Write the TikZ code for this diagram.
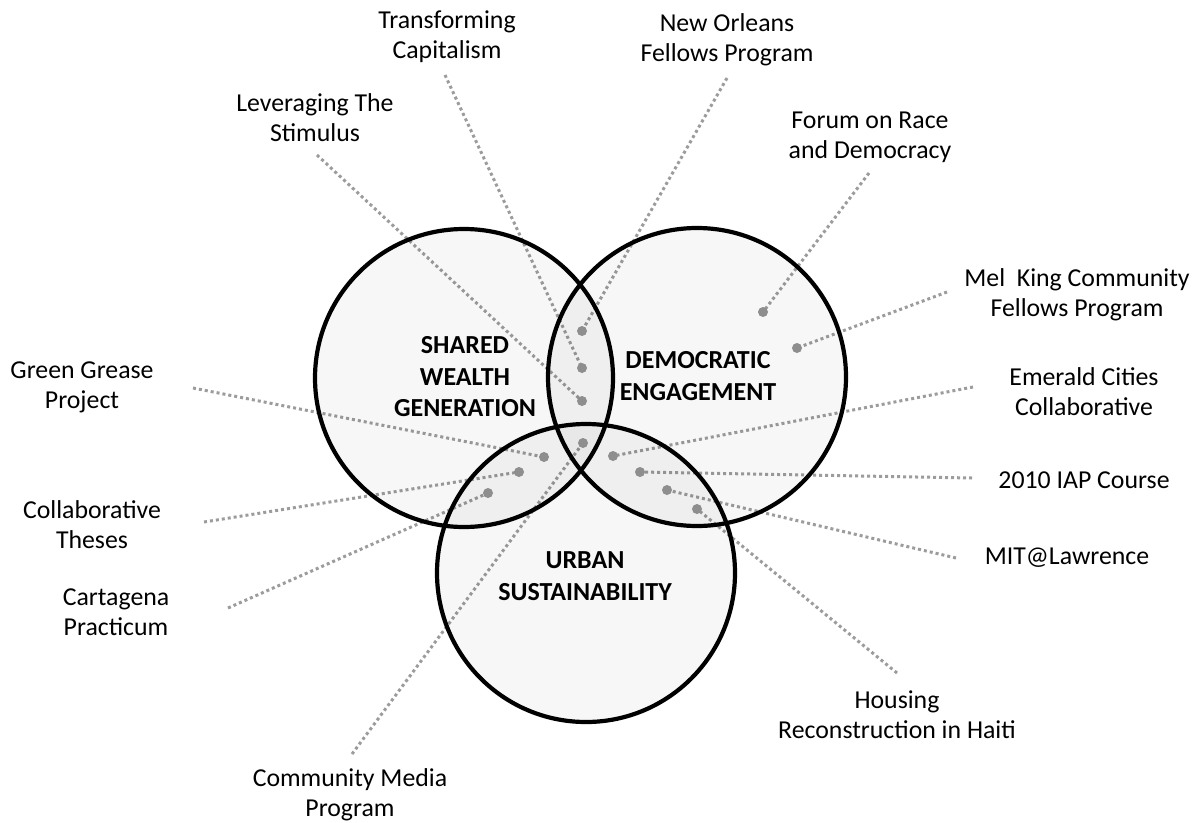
\documentclass[tikz,border=0pt]{standalone}
\usepackage{fontspec}
\setmainfont{Carlito}
\usetikzlibrary{backgrounds}
\definecolor{linegray}{HTML}{9C9C9C}
\definecolor{dotgray}{HTML}{8E8E8E}
\begin{document}
\begin{tikzpicture}[x=1pt,y=-1pt,
  venn/.style={circle, draw=black, line width=4.2pt, minimum size=298pt, inner sep=0pt,
    fill=black, fill opacity=0.032},
  vlabel/.style={align=center, font=\fontsize{26}{31.5}\selectfont\bfseries, inner sep=0pt},
  lbl/.style={align=center, font=\fontsize{25.8}{30}\selectfont, inner sep=0pt},
  pdot/.style={circle, fill=dotgray, minimum size=10pt, inner sep=0pt},
  conn/.style={draw=linegray, line width=3pt, dash pattern=on 3pt off 3pt}]
\useasboundingbox (0,0) rectangle (1202,822);
% circles
\node[venn] (L) at (464,378) {};
\node[venn] (R) at (697,377) {};
\node[venn] (B) at (586,573) {};
\node[vlabel] (Lt) at (465,377) {SHARED\\WEALTH\\GENERATION};
\node[vlabel] (Rt) at (698,376) {DEMOCRATIC\\ENGAGEMENT};
\node[vlabel] (Bt) at (585,576) {URBAN\\SUSTAINABILITY};
% dots
\node[pdot] (d1) at (582,331) {};
\node[pdot] (d2) at (582,368) {};
\node[pdot] (d3) at (582,401) {};
\node[pdot] (d4) at (583,443) {};
\node[pdot] (d5) at (544,457) {};
\node[pdot] (d6) at (519,472) {};
\node[pdot] (d7) at (488,493) {};
\node[pdot] (d8) at (613,456) {};
\node[pdot] (d9) at (640,472) {};
\node[pdot] (d10) at (667,490) {};
\node[pdot] (d11) at (697,509) {};
\node[pdot] (d12) at (763,312) {};
\node[pdot] (d13) at (797,348) {};
% labels
\node[lbl] (tc) at (447,37) {Transforming\\Capitalism};
\node[lbl] (ls) at (315,118) {Leveraging The\\Stimulus};
\node[lbl] (no) at (727,40) {New Orleans\\Fellows Program};
\node[lbl] (fr) at (870,137) {Forum on Race\\and Democracy};
\node[lbl] (mk) at (1077,295) {Mel\ \ King Community\\Fellows Program};
\node[lbl] (ec) at (1084,392) {Emerald Cities\\Collaborative};
\node[lbl] (iap) at (1084,480) {2010 IAP Course};
\node[lbl] (mit) at (1067,558) {MIT@Lawrence};
\node[lbl] (hr) at (897,715) {Housing\\Reconstruction in Haiti};
\node[lbl] (gg) at (82,387) {Green Grease\\Project};
\node[lbl] (ct) at (92,525) {Collaborative\\Theses};
\node[lbl] (cp) at (116,612) {Cartagena\\Practicum};
\node[lbl] (cm) at (350,795) {Community Media\\Program};
% connector ends
\coordinate (tcE) at (445,75);
\coordinate (lsE) at (317,155);
\coordinate (noE) at (727,78);
\coordinate (frE) at (869,173);
\coordinate (mkE) at (947,292);
\coordinate (ecE) at (973,387);
\coordinate (iapE) at (972,478);
\coordinate (mitE) at (956,558);
\coordinate (hrE) at (897,673);
\coordinate (ggE) at (193,388);
\coordinate (ctE) at (204,522);
\coordinate (cpE) at (228,608);
\coordinate (cmE) at (352,754);
\begin{pgfonlayer}{background}
\draw[conn] (tcE) -- (d2.center);
\draw[conn] (noE) -- (d1.center);
\draw[conn] (lsE) -- (d3.center);
\draw[conn] (frE) -- (d12.center);
\draw[conn] (mkE) -- (d13.center);
\draw[conn] (ecE) -- (d8.center);
\draw[conn] (iapE) -- (d9.center);
\draw[conn] (mitE) -- (d10.center);
\draw[conn] (hrE) -- (d11.center);
\draw[conn] (ggE) -- (d5.center);
\draw[conn] (ctE) -- (d6.center);
\draw[conn] (cpE) -- (d7.center);
\draw[conn] (cmE) -- (d4.center);
\end{pgfonlayer}
\end{tikzpicture}
\end{document}
